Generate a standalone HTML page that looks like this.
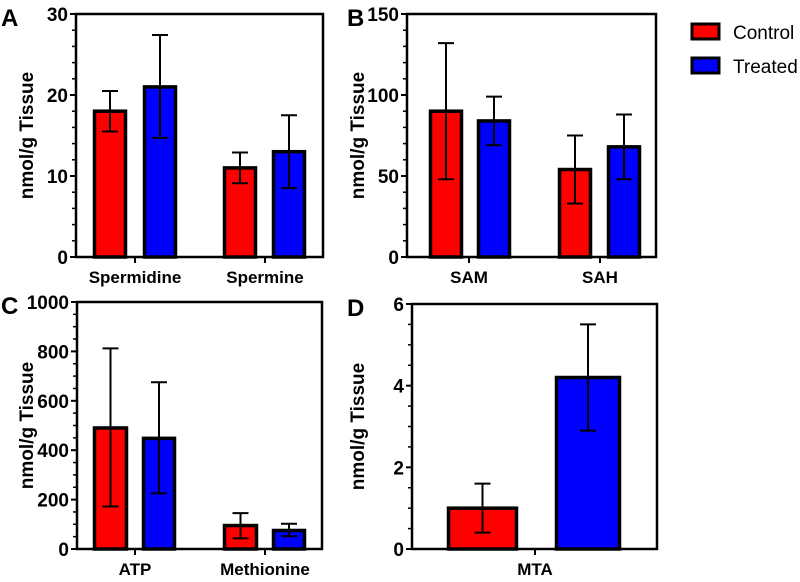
<!DOCTYPE html>
<html><head><meta charset="utf-8"><style>
body{margin:0;background:#fff;width:800px;height:577px;overflow:hidden}
svg text{font-family:"Liberation Sans",Arial,sans-serif;font-weight:bold;fill:#000}
</style></head><body>
<svg id="c" width="800" height="577" xmlns="http://www.w3.org/2000/svg"></svg>
<script>
// Panel A
const catsA=["Spermidine","Spermine"];
const ctrlA=[18,11], ctrlLoA=[15.5,9.1], ctrlHiA=[20.5,12.9];
const trtA=[21,13], trtLoA=[14.7,8.5], trtHiA=[27.4,17.5];
const ticksA=[0,10,20,30];
// Panel B
const catsB=["SAM","SAH"];
const ctrlB=[90,54], ctrlLoB=[48,33], ctrlHiB=[132,75];
const trtB=[84,68], trtLoB=[69,48], trtHiB=[99,88];
const ticksB=[0,50,100,150];
// Panel C
const catsC=["ATP","Methionine"];
const ctrlC=[490,95], ctrlLoC=[172,43], ctrlHiC=[812,145];
const trtC=[448,75], trtLoC=[225,52], trtHiC=[675,102];
const ticksC=[0,200,400,600,800,1000];
// Panel D
const catsD=["MTA"];
const ctrlD=[1.0], ctrlLoD=[0.4], ctrlHiD=[1.6];
const trtD=[4.2], trtLoD=[2.9], trtHiD=[5.5];
const ticksD=[0,2,4,6];

const svg=document.getElementById('c');
const NS="http://www.w3.org/2000/svg";
function mk(tag,attrs,parent){const e=document.createElementNS(NS,tag);for(const k in attrs)e.setAttribute(k,attrs[k]);(parent||svg).appendChild(e);return e;}

function panel(o){
  const g=mk('g',{});
  
  
  const max=o.ticks[o.ticks.length-1];
  const y=v=>o.bottom-(v/max)*(o.bottom-o.top);
  o.cats.forEach((c,i)=>{
    [[o.ctrl,o.lo1,o.hi1,'#ff0000',o.bx[i][0],'control'],[o.trt,o.lo2,o.hi2,'#0000ff',o.bx[i][1],'treated']].forEach(s=>{
      const [vals,lo,hi,col,xs,nm]=s;
      const r=mk('rect',{x:xs[0]+1.5,y:y(vals[i]),width:xs[1]-xs[0]-3,height:o.bottom-y(vals[i]),fill:col,stroke:'#000','stroke-width':3.5},g);
      
      
      const cx=(xs[0]+xs[1])/2;
      const eb=mk('path',{d:`M${cx},${y(lo[i])}V${y(hi[i])}M${cx-8},${y(hi[i])}h16M${cx-8},${y(lo[i])}h16`,stroke:'#000','stroke-width':2,fill:'none'},g);
      
      
    });
    const t=mk('text',{x:o.cx[i],y:o.bottom+26,'text-anchor':'middle','font-size':17},g);
    t.textContent=c;
    
    
    mk('line',{x1:o.cx[i],x2:o.cx[i],y1:o.bottom,y2:o.bottom+6,stroke:'#000','stroke-width':2},g);
  });
  const ax=mk('path',{d:`M${o.left},${o.top}H${o.right}V${o.bottom}H${o.left}Z`,fill:'none',stroke:'#000','stroke-width':2.5},g);
  
  
  const step=o.ticks[1]-o.ticks[0];
  const ms=step/o.minor;
  for(let v=0;v<=max+1e-9;v+=ms){
    const isMaj=Math.abs(v/step-Math.round(v/step))<1e-6;
    mk('line',{x1:o.left-(isMaj?6:4),x2:o.left,y1:y(v),y2:y(v),stroke:'#000','stroke-width':isMaj?2:1.5},g);
  }
  o.ticks.forEach(v=>{
    const t=mk('text',{x:o.left-8,y:y(v)+7,'text-anchor':'end','font-size':19},g);
    t.textContent=v;
    
    
  });
  const cy=(o.top+o.bottom)/2;
  const yt=mk('text',{x:0,y:0,transform:`translate(${o.tx},${cy}) rotate(-90)`,'text-anchor':'middle','font-size':19},g);
  yt.textContent='nmol/g Tissue';
  
  
  const L=mk('text',{x:o.lx,y:o.top+12,'font-size':24},g);
  L.textContent=o.letter;
  
  
}
panel({letter:'A',cats:catsA,ctrl:ctrlA,lo1:ctrlLoA,hi1:ctrlHiA,trt:trtA,lo2:trtLoA,hi2:trtHiA,ticks:ticksA,minor:5,
  left:76,right:323,top:14,bottom:257,bx:[[[93,127],[143,177]],[[223,257],[272,306]]],cx:[135,265],tx:33,lx:1});
panel({letter:'B',cats:catsB,ctrl:ctrlB,lo1:ctrlLoB,hi1:ctrlHiB,trt:trtB,lo2:trtLoB,hi2:trtHiB,ticks:ticksB,minor:5,
  left:407,right:656,top:14,bottom:257,bx:[[[429,463],[477,511]],[[558,592],[607,641]]],cx:[469,600],tx:364,lx:347});
panel({letter:'C',cats:catsC,ctrl:ctrlC,lo1:ctrlLoC,hi1:ctrlHiC,trt:trtC,lo2:trtLoC,hi2:trtHiC,ticks:ticksC,minor:4,
  left:77,right:322,top:302,bottom:549,bx:[[[93,128],[142,176]],[[223,258],[272,306]]],cx:[135,265],tx:33,lx:1});
panel({letter:'D',cats:catsD,ctrl:ctrlD,lo1:ctrlLoD,hi1:ctrlHiD,trt:trtD,lo2:trtLoD,hi2:trtHiD,ticks:ticksD,minor:4,
  left:412,right:657,top:304,bottom:549,bx:[[[447,518],[555,621]]],cx:[535],tx:364,lx:347});
[['Control','#ff0000',23],['Treated','#0000ff',57]].forEach(l=>{
  const r=mk('rect',{x:692,y:l[2]+1,width:27,height:15,fill:l[1],stroke:'#000','stroke-width':3});
  
  
  const t=mk('text',{x:733,y:l[2]+16,'font-size':19});
  t.style.fontWeight='normal';
  t.textContent=l[0];
  
  
});
</script>
</body></html>
